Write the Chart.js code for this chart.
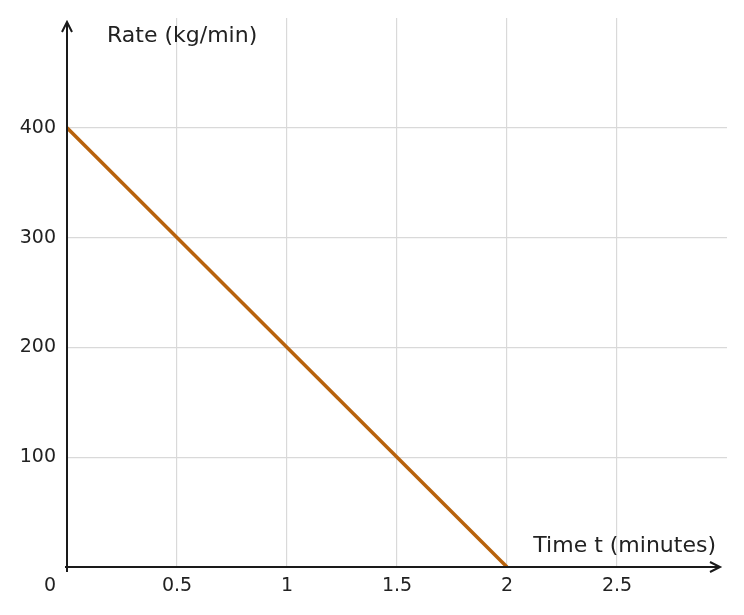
<!DOCTYPE html>
<html><head><meta charset="utf-8">
<script src="https://cdn.jsdelivr.net/npm/chart.js@4"></script>
<style>html,body{margin:0;background:#fff}#w{width:744px;height:615px}</style>
</head><body><div id="w"><canvas id="c"></canvas></div>
<script>
const xValues=[0,2];
const yValues=[400,0];
const xTicks=[0.5,1,1.5,2,2.5];
const yTicks=[100,200,300,400];
const xTitle='Time t (minutes)';
const yTitle='Rate (kg/min)';
const F='"DejaVu Sans", sans-serif';
const deco={id:'deco',afterDraw(ch){
 const c=ch.ctx,x=ch.scales.x,y=ch.scales.y,a=ch.chartArea;
 const x0=x.getPixelForValue(0),y0=y.getPixelForValue(0);
 c.save();c.strokeStyle='#1a1a1a';c.lineWidth=2;
 const tipX=720,tipY=22;
 c.beginPath();c.moveTo(x0,y0+5);c.lineTo(x0,tipY);c.moveTo(x0-2,y0);c.lineTo(tipX,y0);c.stroke();
 c.beginPath();c.moveTo(x0-5,tipY+10);c.lineTo(x0,tipY);c.lineTo(x0+5,tipY+10);
 c.moveTo(tipX-10,y0-5);c.lineTo(tipX,y0);c.lineTo(tipX-10,y0+5);c.stroke();
 c.fillStyle='#222';c.font='19px '+F;c.textBaseline='middle';
 c.textAlign='center';
 xTicks.forEach(v=>c.fillText(String(v),x.getPixelForValue(v),y0+19));
 c.fillText('0',x0-17,y0+19);
 c.textAlign='right';
 yTicks.forEach(v=>c.fillText(String(v),x0-11,y.getPixelForValue(v)));
 c.font='22px '+F;c.textAlign='left';
 c.fillText(yTitle,x0+40,36);
 c.textAlign='right';c.fillText(xTitle,716,y0-21);
 c.restore();}};
new Chart(document.getElementById('c'),{type:'scatter',
 data:{datasets:[{data:xValues.map((v,i)=>({x:v,y:yValues[i]})),showLine:true,borderColor:'#b8620c',borderWidth:3.5,pointRadius:0,fill:false}]},
 options:{responsive:true,maintainAspectRatio:false,animation:false,
  layout:{padding:{left:67,right:17,top:18,bottom:48}},
  plugins:{legend:{display:false},tooltip:{enabled:false}},
  scales:{
   x:{type:'linear',min:0,max:3,afterBuildTicks(s){s.ticks=xTicks.map(v=>({value:v}));},
      ticks:{display:false},grid:{color:'#d9d9d9',lineWidth:1.2,drawTicks:false},border:{display:false}},
   y:{type:'linear',min:0,max:500,afterBuildTicks(s){s.ticks=yTicks.map(v=>({value:v}));},
      ticks:{display:false},grid:{color:'#d9d9d9',lineWidth:1.2,drawTicks:false},border:{display:false}}}},
 plugins:[deco]});
</script></body></html>
